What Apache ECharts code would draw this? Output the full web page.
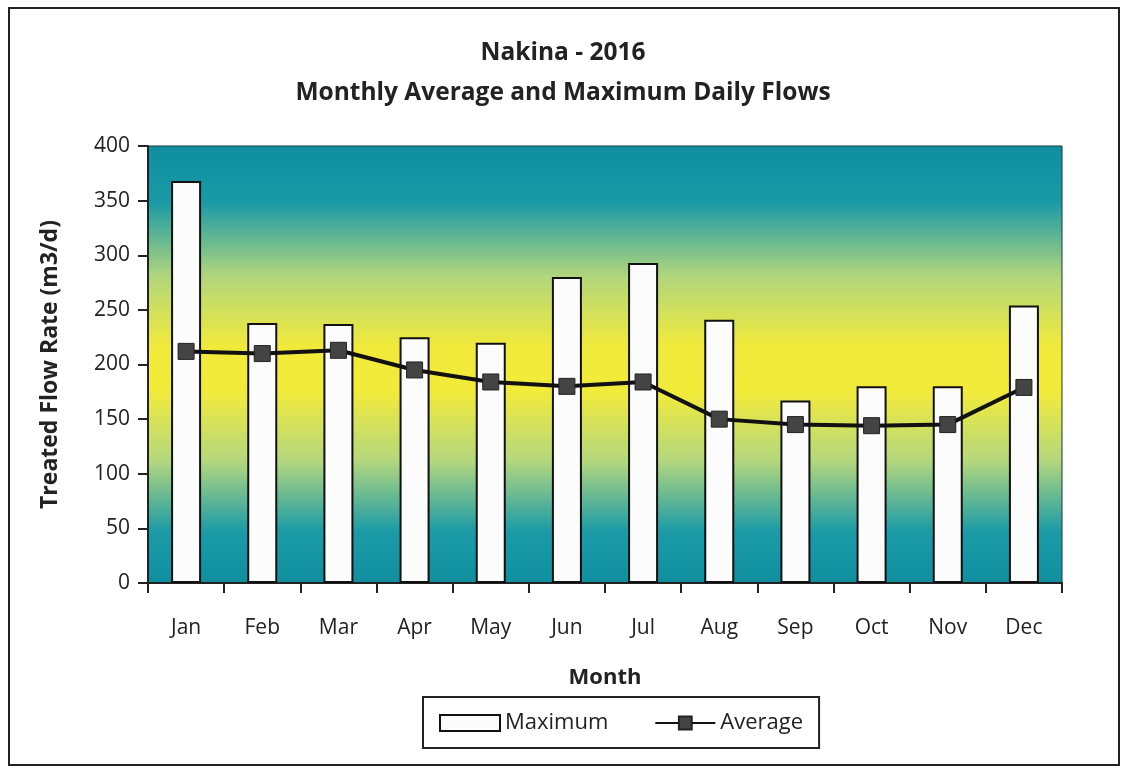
<!DOCTYPE html>
<html>
<head>
<meta charset="utf-8">
<script src="https://cdn.jsdelivr.net/npm/echarts@6/dist/echarts.min.js"></script>
<style>
  html, body { margin: 0; padding: 0; background: #fff; }
  #chart { width: 1126px; height: 770px; }
</style>
</head>
<body>
<div id="chart"></div>
<script>
var months = ['Jan', 'Feb', 'Mar', 'Apr', 'May', 'Jun', 'Jul', 'Aug', 'Sep', 'Oct', 'Nov', 'Dec'];
var maximum = [368, 238, 237, 225, 220, 280, 293, 241, 167, 180, 180, 254];
var average = [212, 210, 213, 195, 184, 180, 184, 150, 145, 144, 145, 179];

var myChart = echarts.init(document.getElementById('chart'));
var font = 'Open Sans';

var option = {
    backgroundColor: '#fff',
    animation: false,
    title: {
        text: 'Nakina - 2016\nMonthly Average and Maximum Daily Flows',
        left: 'center',
        top: 28,
        textStyle: {
            fontFamily: font,
            fontSize: 24.5,
            fontWeight: 'bold',
            color: '#222',
            lineHeight: 40
        }
    },
    graphic: [
        {
            type: 'rect',
            shape: { x: 9, y: 8, width: 1110, height: 757 },
            style: { fill: 'none', stroke: '#222', lineWidth: 2 },
            silent: true
        }
    ],
    legend: {
        top: 697,
        left: 423,
        itemGap: 46,
        itemWidth: 60,
        itemHeight: 16,
        borderColor: '#222',
        borderWidth: 2,
        padding: [15, 16, 14, 16],
        textStyle: { fontFamily: font, fontSize: 22, color: '#222' },
        data: [
            { name: 'Maximum', icon: 'rect' },
            { name: 'Average' }
        ]
    },
    grid: {
        left: 148,
        right: 64,
        top: 146,
        bottom: 187,
        show: true,
        borderColor: '#1b3a3c',
        borderWidth: 1,
        backgroundColor: {
            type: 'linear', x: 0, y: 0, x2: 0, y2: 1,
            colorStops: [
                { offset: 0, color: '#0f8e9f' },
                { offset: 0.13, color: '#1a9aa6' },
                { offset: 0.3, color: '#b2d67c' },
                { offset: 0.46, color: '#f2ea3a' },
                { offset: 0.56, color: '#f3eb3a' },
                { offset: 0.72, color: '#b4d77e' },
                { offset: 0.88, color: '#1c9ba7' },
                { offset: 1, color: '#0f8e9f' }
            ]
        }
    },
    xAxis: {
        type: 'category',
        data: months,
        name: 'Month',
        nameLocation: 'middle',
        nameGap: 84,
        nameTextStyle: { fontFamily: font, fontSize: 22, fontWeight: 'bold', color: '#222' },
        axisLine: { lineStyle: { color: '#222', width: 2 } },
        axisTick: { show: true, length: 10, lineStyle: { color: '#222', width: 2 } },
        axisLabel: { fontFamily: font, fontSize: 21, color: '#222', margin: 35 }
    },
    yAxis: {
        type: 'value',
        min: 0,
        max: 400,
        interval: 50,
        name: 'Treated Flow Rate (m3/d)',
        nameLocation: 'middle',
        nameGap: 86,
        nameTextStyle: { fontFamily: font, fontSize: 23, fontWeight: 'bold', color: '#222' },
        axisLine: { show: true, lineStyle: { color: '#222', width: 2 } },
        axisTick: { show: true, length: 10, lineStyle: { color: '#222', width: 2 } },
        axisLabel: { fontFamily: font, fontSize: 21, color: '#222', margin: 18 },
        splitLine: { show: false }
    },
    series: [
        {
            name: 'Maximum',
            type: 'bar',
            data: maximum,
            barWidth: 30,
            itemStyle: { color: '#fcfcfc', borderColor: '#111', borderWidth: 2 }
        },
        {
            name: 'Average',
            type: 'line',
            data: average,
            symbol: 'rect',
            symbolSize: 16,
            lineStyle: { color: '#111', width: 4 },
            itemStyle: { color: '#444', borderColor: '#222', borderWidth: 1 }
        }
    ]
};

option && myChart.setOption(option);
</script>
</body>
</html>
